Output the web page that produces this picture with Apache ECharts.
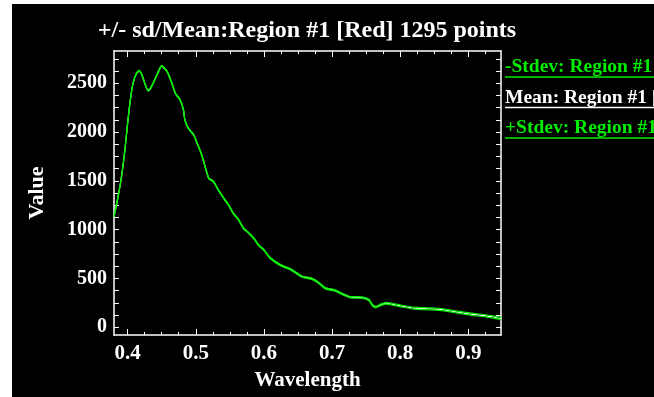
<!DOCTYPE html>
<html>
<head>
<meta charset="utf-8">
<script src="https://cdn.jsdelivr.net/npm/echarts@6/dist/echarts.min.js"></script>
<style>
  html, body { margin: 0; padding: 0; background: #fff; }
  #chart { width: 654px; height: 397px; }
</style>
</head>
<body>
<div id="chart"></div>
<script>
// Spectral profile of Region #1: mean and +/- one standard deviation
const wavelengths = [
  0.380, 0.386, 0.391, 0.396, 0.400, 0.404, 0.408, 0.413, 0.417, 0.421,
  0.426, 0.430, 0.435, 0.443, 0.450, 0.458, 0.465, 0.470, 0.477, 0.482,
  0.484, 0.489, 0.497, 0.502, 0.507, 0.511, 0.519, 0.526, 0.533, 0.541,
  0.548, 0.555, 0.563, 0.570, 0.578, 0.585, 0.592, 0.600, 0.609, 0.624,
  0.639, 0.656, 0.671, 0.680, 0.690, 0.705, 0.715, 0.727, 0.744, 0.754,
  0.759, 0.764, 0.771, 0.779, 0.788, 0.801, 0.820, 0.845, 0.864, 0.884,
  0.904, 0.923, 0.938, 0.948
];
const meanValues = [
  1133, 1338, 1543, 1817, 2090, 2329, 2500, 2602, 2626, 2585,
  2482, 2424, 2465, 2585, 2677, 2619, 2500, 2397, 2329, 2226,
  2124, 2039, 1970, 1885, 1799, 1714, 1527, 1492, 1407, 1322,
  1253, 1168, 1099, 1014, 963, 912, 843, 792, 710, 638,
  594, 518, 495, 457, 400, 375, 341, 307, 303, 280,
  228, 205, 228, 246, 236, 218, 195, 187, 177, 154,
  133, 119, 102, 88
];
const stdevValues = [
  6, 6, 6, 6, 6, 6, 6, 6, 6, 6,
  6, 6, 6, 6, 6, 6, 6, 6, 6, 6,
  6, 6, 6, 6, 6, 6, 6, 6, 6, 6,
  6, 6, 6, 6, 6, 6, 6, 6, 6, 7,
  7, 7, 7, 7, 7, 7, 7, 7, 8, 8,
  8, 8, 8, 9, 9, 9, 10, 10, 10, 10,
  11, 11, 11, 11
];
const xTickLabels = [0.4, 0.5, 0.6, 0.7, 0.8, 0.9];
const yTickLabels = [0, 500, 1000, 1500, 2000, 2500];

const seriesNames = ['-Stdev: Region #1 [Red]', 'Mean: Region #1 [Red]', '+Stdev: Region #1 [Red]'];
const seriesColors = ['#00ee00', '#ffffff', '#00ee00'];

const X_MIN = 0.38, X_MAX = 0.948, Y_MIN = -80, Y_MAX = 2830;

// tick positions: majors every 0.1 / minors every 0.025 on x, every 125 on y
const xMajorTicks = xTickLabels.slice();
const xMinorTicks = [];
for (let k = 16; k * 0.025 <= X_MAX + 1e-9; k++) xMinorTicks.push(+(k * 0.025).toFixed(3));
const yTicks = [];
for (let v = 0; v <= Y_MAX; v += 125) yTicks.push(v);

const serif = '"Liberation Serif", "DejaVu Serif", serif';
const labelStyle = { color: '#fff', fontFamily: serif, fontWeight: 'bold', fontSize: 21 };

function xAxis(position, ticks, len, withLine, withLabel) {
  const ax = {
    type: 'value', min: X_MIN, max: X_MAX, position: position,
    axisLine: { show: withLine, onZero: false, lineStyle: { color: '#fff', width: 1.5 } },
    axisTick: { show: true, inside: true, length: len, customValues: ticks, lineStyle: { color: '#fff', width: 1 } },
    axisLabel: { show: withLabel, customValues: xTickLabels, formatter: v => v.toFixed(1), margin: 8, ...labelStyle },
    splitLine: { show: false }
  };
  if (withLabel) {
    ax.name = 'Wavelength';
    ax.nameLocation = 'middle';
    ax.nameGap = 35;
    ax.nameTextStyle = { ...labelStyle };
  }
  return ax;
}

function yAxis(position, withLabel) {
  const ax = {
    type: 'value', min: Y_MIN, max: Y_MAX, position: position,
    axisLine: { show: true, onZero: false, lineStyle: { color: '#fff', width: 1.5 } },
    axisTick: { show: true, inside: true, length: 5, customValues: yTicks, lineStyle: { color: '#fff', width: 1 } },
    axisLabel: { show: withLabel, customValues: yTickLabels, formatter: v => String(v), margin: 7, ...labelStyle, fontSize: 20 },
    splitLine: { show: false }
  };
  if (withLabel) {
    ax.name = 'Value';
    ax.nameLocation = 'middle';
    ax.nameGap = 66;
    ax.nameTextStyle = { ...labelStyle, fontSize: 22 };
  }
  return ax;
}

const series = [
  wavelengths.map((w, i) => [w, meanValues[i] - stdevValues[i]]),
  wavelengths.map((w, i) => [w, meanValues[i]]),
  wavelengths.map((w, i) => [w, meanValues[i] + stdevValues[i]])
].map((data, i) => ({
  name: seriesNames[i],
  type: 'line',
  data: data,
  xAxisIndex: 0,
  yAxisIndex: 0,
  showSymbol: false,
  smooth: 0.2,
  lineStyle: { color: seriesColors[i], width: 1.2 },
  z: i === 1 ? 2 : 3,
  animation: false
}));

// legend entries: text with a sample line underneath
const legendGraphics = [];
seriesNames.forEach((name, i) => {
  const yText = 69 + i * 30.5;
  legendGraphics.push({
    type: 'text', left: 505, top: yText - 12,
    style: { text: name, fill: seriesColors[i], font: 'bold 19.5px ' + serif }
  });
  legendGraphics.push({
    type: 'line', shape: { x1: 505, y1: yText + 8, x2: 654, y2: yText + 8 },
    style: { stroke: seriesColors[i], lineWidth: 1.5 }
  });
});

const chart = echarts.init(document.getElementById('chart'), null, { renderer: 'canvas' });
chart.setOption({
  backgroundColor: '#000',
  animation: false,
  title: {
    text: '+/- sd/Mean:Region #1 [Red] 1295 points',
    left: 302, top: 14, textAlign: 'center',
    textStyle: { color: '#fff', fontFamily: serif, fontWeight: 'bold', fontSize: 24 }
  },
  grid: { left: 114, top: 51, right: 153, bottom: 62, containLabel: false },
  xAxis: [
    xAxis('bottom', xMajorTicks, 6, true, true),
    xAxis('bottom', xMinorTicks, 3, false, false),
    xAxis('top', xMajorTicks, 6, true, false),
    xAxis('top', xMinorTicks, 3, false, false)
  ],
  yAxis: [yAxis('left', true), yAxis('right', false)],
  series: series,
  graphic: [
    { type: 'rect', shape: { x: 0, y: 0, width: 12, height: 397 }, style: { fill: '#fff' }, z: 100 },
    { type: 'rect', shape: { x: 0, y: 0, width: 654, height: 4 }, style: { fill: '#fff' }, z: 100 },
    ...legendGraphics
  ]
});
</script>
</body>
</html>
